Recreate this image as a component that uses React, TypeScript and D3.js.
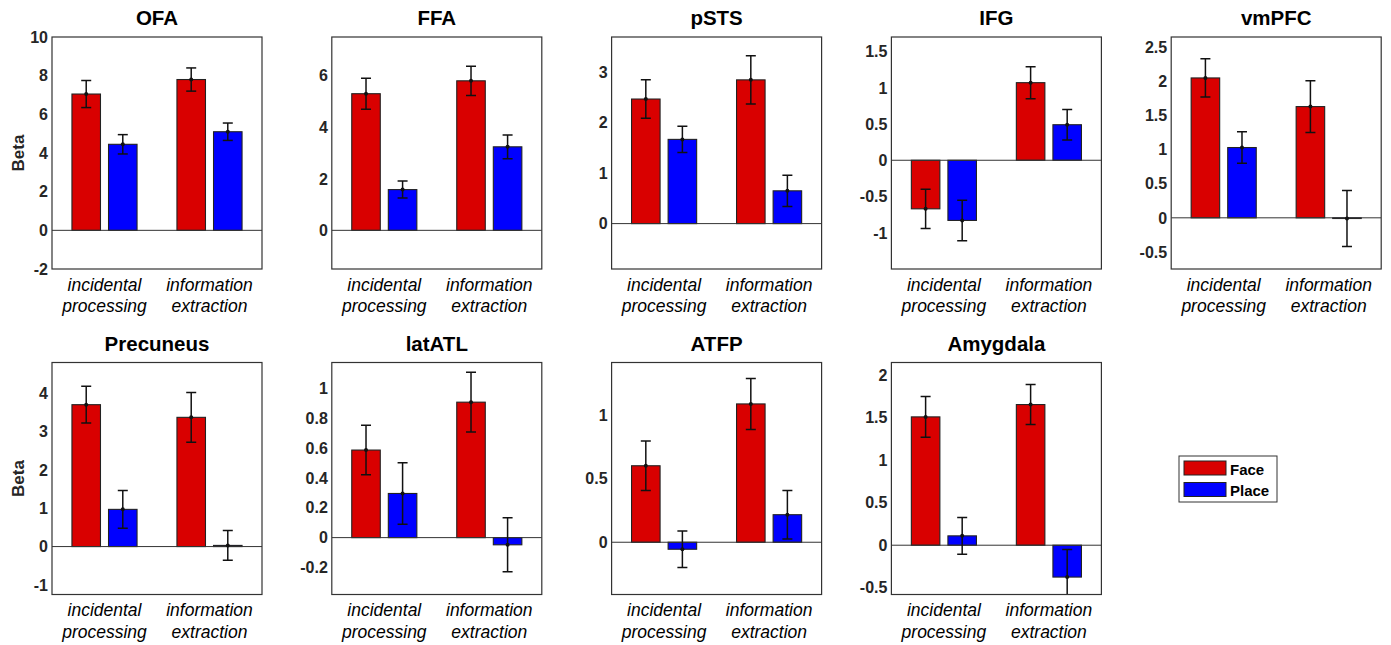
import React from "react";
import * as d3 from "d3";

// ROI names, in panel order (top row then bottom row)
const regions = ["OFA", "FFA", "pSTS", "IFG", "vmPFC", "Precuneus", "latATL", "ATFP", "Amygdala"];
const conditions = ["incidental processing", "information extraction"];
const series = ["Face", "Place"];

// [incidental, extraction] per region
const faceBeta = [[7.05, 7.8], [5.3, 5.8], [2.47, 2.85], [-0.67, 1.07], [2.05, 1.63], [3.7, 3.37], [0.585, 0.905], [0.6, 1.085], [1.51, 1.655]];
const faceErr = [[0.7, 0.6], [0.6, 0.57], [0.38, 0.48], [0.27, 0.22], [0.28, 0.38], [0.48, 0.65], [0.165, 0.2], [0.195, 0.2], [0.24, 0.235]];
const placeBeta = [[4.45, 5.1], [1.58, 3.24], [1.67, 0.65], [-0.83, 0.49], [1.03, -0.01], [0.97, 0.03], [0.295, -0.048], [-0.055, 0.216], [0.11, -0.375]];
const placeErr = [[0.5, 0.45], [0.33, 0.46], [0.26, 0.31], [0.28, 0.21], [0.23, 0.41], [0.49, 0.39], [0.205, 0.18], [0.143, 0.19], [0.215, 0.325]];

const yLimits = [[-2, 10], [-1.5, 7.5], [-0.9, 3.7], [-1.5, 1.7], [-0.75, 2.65], [-1.25, 4.8], [-0.38, 1.17], [-0.41, 1.41], [-0.58, 2.15]];
const yTicks = [
  [-2, 0, 2, 4, 6, 8, 10],
  [0, 2, 4, 6],
  [0, 1, 2, 3],
  [-1, -0.5, 0, 0.5, 1, 1.5],
  [-0.5, 0, 0.5, 1, 1.5, 2, 2.5],
  [-1, 0, 1, 2, 3, 4],
  [-0.2, 0, 0.2, 0.4, 0.6, 0.8, 1],
  [0, 0.5, 1],
  [-0.5, 0, 0.5, 1, 1.5, 2],
];

const colors = { Face: "#d90000", Place: "#0000ff" };
const W = 1391, H = 645;
const boxW = 210, boxH = 232;
const colStep = 279.8;
const rowTop = [37, 362.5];
const font = "'Liberation Sans', Arial, Helvetica, sans-serif";

function Panel({ idx }: { idx: number }) {
  const col = idx % 5, row = Math.floor(idx / 5);
  const x0 = 52 + col * colStep;
  const y0 = rowTop[row];

  const y = d3.scaleLinear().domain(yLimits[idx]).range([y0 + boxH, y0]);
  const xOuter = d3.scaleBand().domain(conditions).range([x0, x0 + boxW]);
  const band = xOuter.bandwidth();
  const xInner = d3.scaleBand().domain(series).range([band * 0.19, band * 0.81]).paddingInner(0.22);

  const data = conditions.flatMap((c, ci) => [
    { cond: c, s: "Face", v: faceBeta[idx][ci], e: faceErr[idx][ci] },
    { cond: c, s: "Place", v: placeBeta[idx][ci], e: placeErr[idx][ci] },
  ]);
  const clipId = `clip${idx}`;
  const barX = (d: { cond: string; s: string }) => (xOuter(d.cond) as number) + (xInner(d.s) as number);

  return (
    <g>
      <defs>
        <clipPath id={clipId}>
          <rect x={x0} y={y0} width={boxW} height={boxH} />
        </clipPath>
      </defs>
      <text x={x0 + boxW / 2} y={y0 - 12} textAnchor="middle" fontFamily={font} fontWeight="bold" fontSize={20.5} fill="#000">
        {regions[idx]}
      </text>
      <g clipPath={`url(#${clipId})`}>
        {data.map((d, i) => (
          <rect key={i} x={barX(d)} y={Math.min(y(d.v), y(0))} width={xInner.bandwidth()} height={Math.abs(y(d.v) - y(0))}
            fill={colors[d.s as "Face" | "Place"]} stroke="#222" strokeWidth={1.1} />
        ))}
        <line x1={x0} x2={x0 + boxW} y1={y(0)} y2={y(0)} stroke="#333" strokeWidth={1} />
        {data.map((d, i) => {
          const cx = barX(d) + xInner.bandwidth() / 2;
          return (
            <g key={"e" + i} stroke="#111" strokeWidth={1.5}>
              <line x1={cx} x2={cx} y1={y(d.v - d.e)} y2={y(d.v + d.e)} />
              <line x1={cx - 5} x2={cx + 5} y1={y(d.v - d.e)} y2={y(d.v - d.e)} />
              <line x1={cx - 5} x2={cx + 5} y1={y(d.v + d.e)} y2={y(d.v + d.e)} />
              <circle cx={cx} cy={y(d.v)} r={2} fill="#111" stroke="none" />
            </g>
          );
        })}
      </g>
      <rect x={x0} y={y0} width={boxW} height={boxH} fill="none" stroke="#333" strokeWidth={1.2} />
      {yTicks[idx].map((t) => (
        <text key={t} x={x0 - 4} y={y(t)} dy="0.36em" textAnchor="end" fontFamily={font} fontWeight="bold" fontSize={16} fill="#262626">
          {String(t)}
        </text>
      ))}
      {conditions.map((c) => {
        const cx = (xOuter(c) as number) + band / 2;
        const words = c.split(" ");
        return (
          <text key={c} x={cx} textAnchor="middle" fontFamily={font} fontStyle="italic" fontSize={17.5} fill="#000">
            <tspan x={cx} y={y0 + boxH + 21.5}>{words[0]}</tspan>
            <tspan x={cx} y={y0 + boxH + 43}>{words[1]}</tspan>
          </text>
        );
      })}
      {col === 0 && (
        <text transform={`translate(${x0 - 34},${y0 + boxH / 2}) rotate(-90)`} dy="0.36em" textAnchor="middle"
          fontFamily={font} fontWeight="bold" fontSize={17} fill="#262626">
          Beta
        </text>
      )}
    </g>
  );
}

function Legend() {
  const lx = 1179, ly = 456;
  return (
    <g>
      <rect x={lx} y={ly} width={98} height={46} fill="#fff" stroke="#333" strokeWidth={1} />
      {series.map((s, i) => (
        <g key={s}>
          <rect x={lx + 5} y={ly + 5 + i * 21.5} width={42} height={14} fill={colors[s as "Face" | "Place"]} stroke="#222" strokeWidth={1} />
          <text x={lx + 51} y={ly + 18.5 + i * 21.5} fontFamily={font} fontWeight="bold" fontSize={15} fill="#000">
            {s}
          </text>
        </g>
      ))}
    </g>
  );
}

export default function App() {
  return (
    <svg width={W} height={H} style={{ position: "absolute", left: 0, top: 0, background: "#fff" }}>
      <rect width={W} height={H} fill="#fff" />
      {regions.map((r, i) => (
        <Panel key={r} idx={i} />
      ))}
      <Legend />
    </svg>
  );
}
